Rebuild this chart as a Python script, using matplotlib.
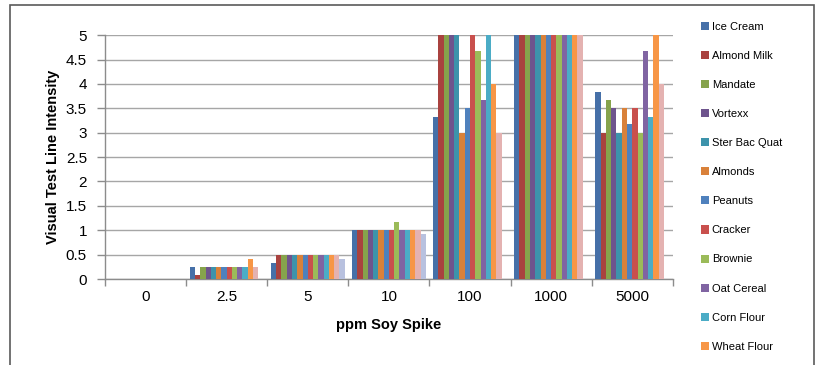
import matplotlib
matplotlib.use("Agg")
import matplotlib.pyplot as plt
import numpy as np
from matplotlib.patches import Rectangle

plt.rcParams["font.family"] = ["Liberation Sans", "DejaVu Sans"]

categories = ["0", "2.5", "5", "10", "100", "1000", "5000"]

series_names = [
    "Ice Cream", "Almond Milk", "Mandate", "Vortexx", "Ster Bac Quat",
    "Almonds", "Peanuts", "Cracker", "Brownie", "Oat Cereal",
    "Corn Flour", "Wheat Flour", "Series 13", "Series 14",
]

# one row per series, one value per spike level
ice_cream = [0, 0.25, 0.33, 1, 3.33, 5, 3.83]
almond_milk = [0, 0.08, 0.5, 1, 5, 5, 3.0]
mandate = [0, 0.25, 0.5, 1, 5, 5, 3.67]
vortexx = [0, 0.25, 0.5, 1, 5, 5, 3.5]
ster_bac_quat = [0, 0.25, 0.5, 1, 5, 5, 3.0]
almonds = [0, 0.25, 0.5, 1, 3.0, 5, 3.5]
peanuts = [0, 0.25, 0.5, 1, 3.5, 5, 3.17]
cracker = [0, 0.25, 0.5, 1, 5, 5, 3.5]
brownie = [0, 0.25, 0.5, 1.17, 4.67, 5, 3.0]
oat_cereal = [0, 0.25, 0.5, 1, 3.67, 5, 4.67]
corn_flour = [0, 0.25, 0.5, 1, 5, 5, 3.33]
wheat_flour = [0, 0.42, 0.5, 1, 4.0, 5, 5]
series_13 = [0, 0.25, 0.5, 1, 3.0, 5, 4.0]
series_14 = [0, 0, 0.42, 0.92, 0, 0, 0]

values = [ice_cream, almond_milk, mandate, vortexx, ster_bac_quat, almonds,
          peanuts, cracker, brownie, oat_cereal, corn_flour, wheat_flour,
          series_13, series_14]

colors = ["#4670A8", "#A9423F", "#86A34C", "#6E548D", "#3D93AB", "#D9813A",
          "#4F81BD", "#C9504D", "#9BBB59", "#8064A2", "#4BACC6", "#F79646",
          "#E4B2B1", "#B8C1DF"]

fig = plt.figure(figsize=(8.17, 3.65), dpi=100)
ax = fig.add_axes([0.1285, 0.2356, 0.695, 0.668])

x = np.arange(len(categories))
n = len(values)
span = 0.91
w = span / n
for i, (name, vals, c) in enumerate(zip(series_names, values, colors)):
    offs = -span / 2 + w * (i + 0.5)
    lbl = name if i < 12 else "_nolegend_"
    ax.bar(x + offs, vals, width=w, color=c, label=lbl, zorder=3)

ax.set_xlim(-0.5, len(categories) - 0.5)
ax.set_ylim(0, 5)
ax.set_yticks(np.arange(0, 5.01, 0.5))
ax.set_yticklabels(["0", "0.5", "1", "1.5", "2", "2.5", "3", "3.5", "4", "4.5", "5"])
ax.yaxis.grid(True, color="#A6A6A6", linewidth=1.0, zorder=0)
ax.set_axisbelow(True)

ax.set_xticks(x)
ax.set_xticklabels(categories)
ax.set_xticks(np.arange(-0.5, len(categories)), minor=True)
ax.tick_params(axis="x", which="major", length=0, labelsize=11, pad=8)
ax.tick_params(axis="x", which="minor", length=5, color="#8C8C8C", width=1)
ax.tick_params(axis="y", length=6, color="#8C8C8C", width=1, labelsize=11, pad=7)

for s in ["top", "right"]:
    ax.spines[s].set_visible(False)
for s in ["left", "bottom"]:
    ax.spines[s].set_color("#8C8C8C")
    ax.spines[s].set_linewidth(1)

ax.set_ylabel("Visual Test Line Intensity", fontsize=10.5, fontweight="bold", labelpad=4)
ax.set_xlabel("ppm Soy Spike", fontsize=10.5, fontweight="bold", labelpad=10)

fig.legend(loc="upper left", bbox_to_anchor=(0.852, 0.953), frameon=False,
           fontsize=8, handlelength=0.75, handleheight=0.75, handletextpad=0.25,
           labelspacing=1.72, borderaxespad=0)

# outer chart border, cut off at bottom like the source
fig.patches.append(Rectangle((10 / 817, -0.05), 804 / 817, 1 - 5 / 365 + 0.05,
                             transform=fig.transFigure, fill=False,
                             edgecolor="#5A5A5A", linewidth=1.2))

fig.savefig("out.png", dpi=100)
